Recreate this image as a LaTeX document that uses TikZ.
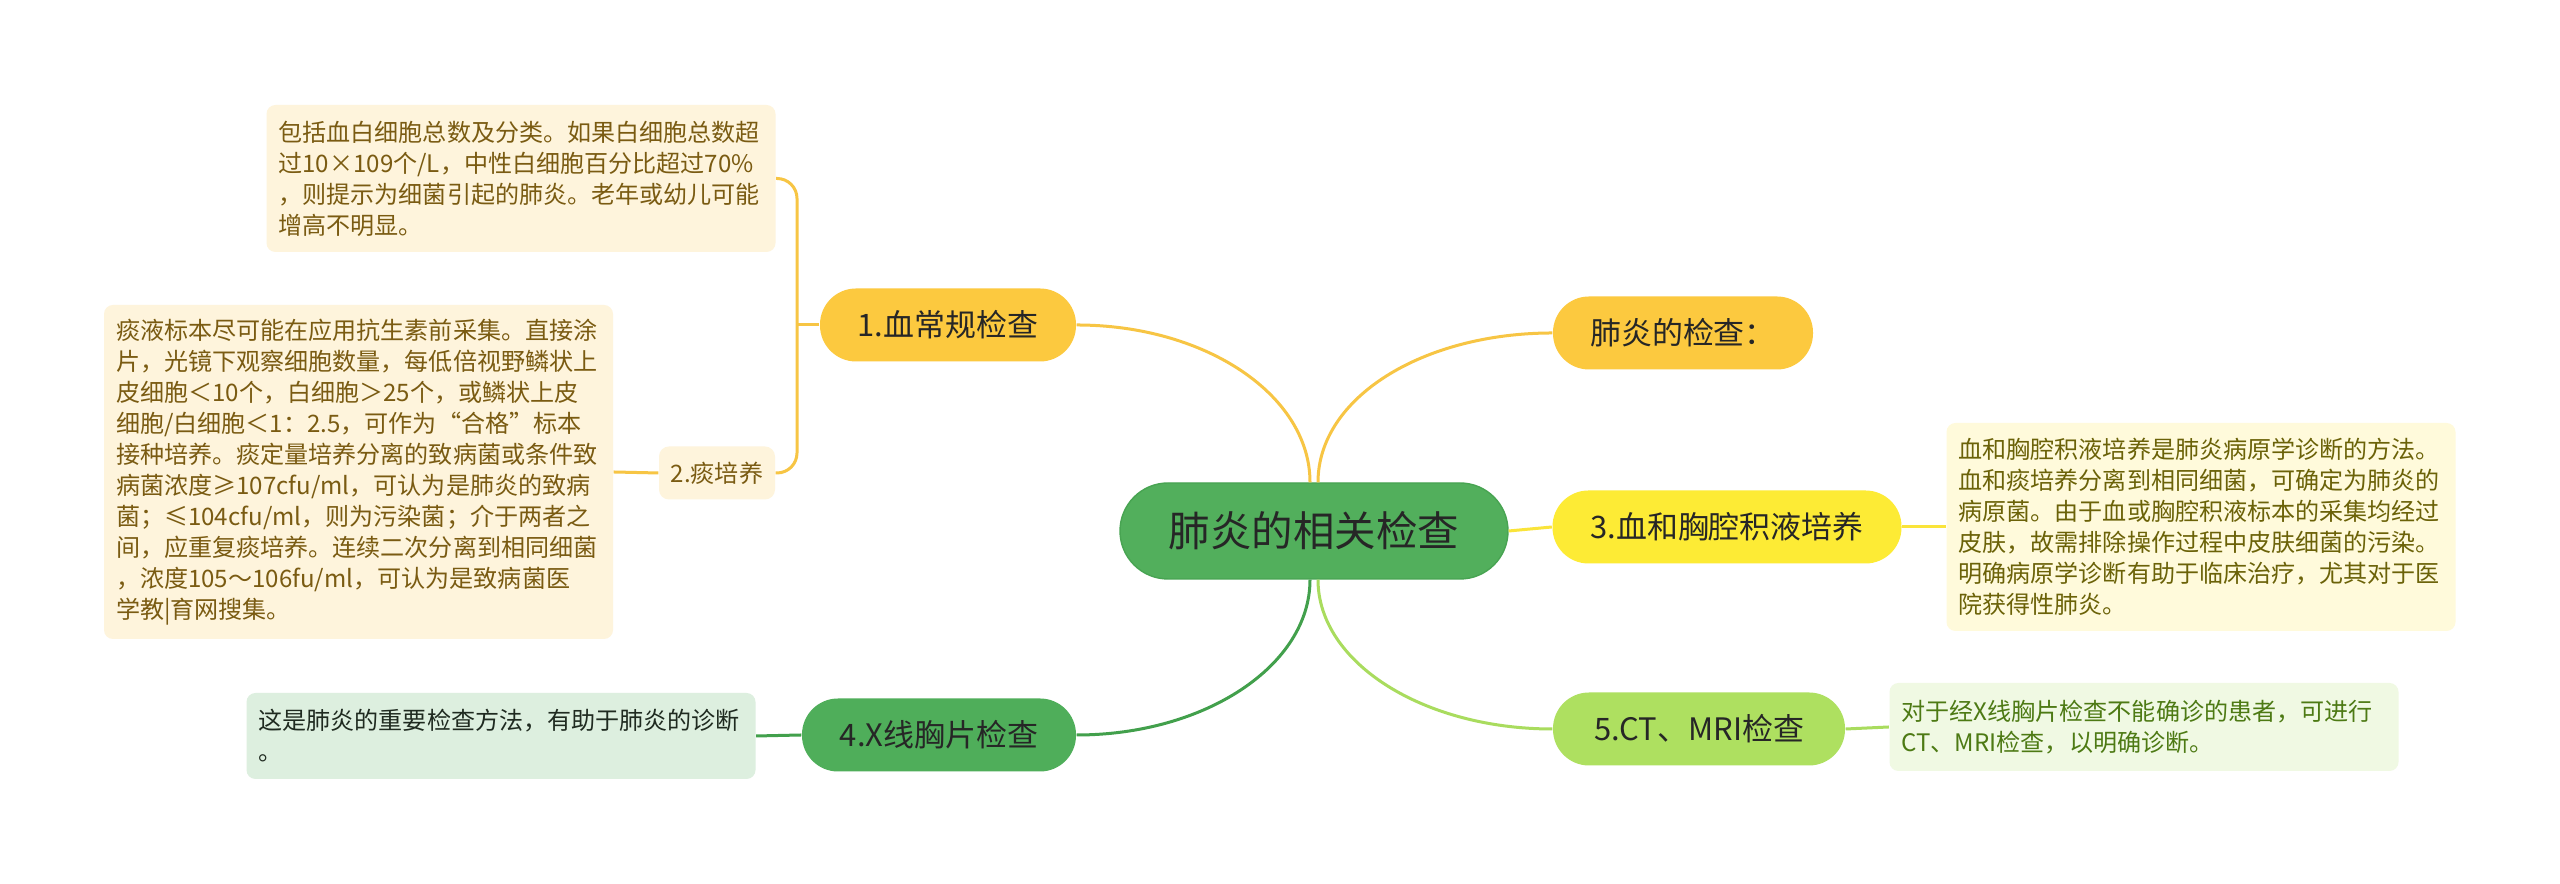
\documentclass[tikz,border=0pt]{standalone}
\usepackage{fontspec}
\setmainfont{Noto Sans CJK SC}

\definecolor{topicgreen}{HTML}{52AF5C}
\definecolor{topicedge}{HTML}{48A452}
\definecolor{goldfill}{HTML}{FCC93F}
\definecolor{goldline}{HTML}{F7C544}
\definecolor{yellowfill}{HTML}{FDEB35}
\definecolor{yellowline}{HTML}{FAE43A}
\definecolor{limefill}{HTML}{AEE060}
\definecolor{limeline}{HTML}{A9DC5E}
\definecolor{greenfill}{HTML}{4FAE5A}
\definecolor{greenline}{HTML}{42A04C}
\definecolor{creamfill}{HTML}{FEF4DC}
\definecolor{creamtext}{HTML}{7A5B12}
\definecolor{paleyellow}{HTML}{FFFADB}
\definecolor{olivetext}{HTML}{6B6208}
\definecolor{palegreen}{HTML}{DDEFDF}
\definecolor{darktext}{HTML}{1F2A20}
\definecolor{palelime}{HTML}{F0F9E3}
\definecolor{limetext}{HTML}{4D7A14}

\begin{document}
\begin{tikzpicture}[
    pill/.style={rectangle, rounded corners=0.36cm, inner sep=0pt, minimum height=0.73cm, text=black!85, font=\fontsize{8.8}{10}\selectfont},
    note/.style={rectangle, rounded corners=0.09cm, inner xsep=0.12cm, inner ysep=0pt, text width=4.85cm, minimum width=5.09cm, align=left, font=\fontsize{6.85}{8.8}\selectfont},
    link/.style={line width=0.03cm},
]
    % Canvas
    \fill[white] (0,0) rectangle (25.6,8.84);

    % Central topic
    \node[rectangle, rounded corners=0.48cm, fill=topicgreen, draw=topicedge, line width=0.4pt, minimum width=3.88cm, minimum height=0.96cm, text=black!85, font=\fontsize{11.8}{14}\selectfont] (topic) at (13.14,3.53) {肺炎的相关检查};

    % Main branches
    \node[pill, fill=goldfill, minimum width=2.56cm] (blood) at (9.48,5.59) {1.血常规检查};
    \node[pill, fill=goldfill, minimum width=2.60cm] (exam) at (16.83,5.51) {肺炎的检查：};
    \node[pill, fill=yellowfill, minimum width=3.49cm] (culture) at (17.27,3.57) {3.血和胸腔积液培养};
    \node[pill, fill=greenfill, minimum width=2.74cm] (xray) at (9.39,1.49) {4.X线胸片检查};
    \node[pill, fill=limefill, minimum width=2.92cm] (ctmri) at (16.99,1.55) {5.CT、MRI检查};

    % Sub branch
    \node[rectangle, rounded corners=0.1cm, fill=creamfill, text=creamtext, minimum width=1.16cm, minimum height=0.53cm, inner sep=0pt, font=\fontsize{6.85}{8.8}\selectfont] (sputum) at (7.17,4.11) {2.痰培养};

    % Detail notes
    \node[note, fill=creamfill, text=creamtext, minimum height=1.47cm] (bloodnote) at (5.21,7.055) {包括血白细胞总数及分类。如果白细胞总数超\\
过10×109个/L，中性白细胞百分比超过70\%\\
，则提示为细菌引起的肺炎。老年或幼儿可能\\
增高不明显。};

    \node[note, fill=creamfill, text=creamtext, minimum height=3.34cm] (sputumnote) at (3.585,4.12) {痰液标本尽可能在应用抗生素前采集。直接涂\\
片，光镜下观察细胞数量，每低倍视野鳞状上\\
皮细胞＜10个，白细胞＞25个，或鳞状上皮\\
细胞/白细胞＜1：2.5，可作为“合格”标本\\
接种培养。痰定量培养分离的致病菌或条件致\\
病菌浓度≥107cfu/ml，可认为是肺炎的致病\\
菌；≤104cfu/ml，则为污染菌；介于两者之\\
间，应重复痰培养。连续二次分离到相同细菌\\
，浓度105～106fu/ml，可认为是致病菌医\\
学教|育网搜集。};

    \node[note, fill=paleyellow, text=olivetext, minimum height=2.08cm] (culturenote) at (22.01,3.57) {血和胸腔积液培养是肺炎病原学诊断的方法。\\
血和痰培养分离到相同细菌，可确定为肺炎的\\
病原菌。由于血或胸腔积液标本的采集均经过\\
皮肤，故需排除操作过程中皮肤细菌的污染。\\
明确病原学诊断有助于临床治疗，尤其对于医\\
院获得性肺炎。};

    \node[note, fill=palegreen, text=darktext, minimum height=0.86cm] (xraynote) at (5.01,1.48) {这是肺炎的重要检查方法，有助于肺炎的诊断\\
。};

    \node[note, fill=palelime, text=limetext, minimum height=0.88cm] (ctnote) at (21.44,1.57) {对于经X线胸片检查不能确诊的患者，可进行\\
CT、MRI检查，以明确诊断。};

    % Connectors from the topic
    \draw[link, goldline] ([xshift=-0.04cm]topic.north) .. controls +(0,0.87) and +(1.29,0) .. (blood.east);
    \draw[link, goldline] ([xshift=0.04cm]topic.north) .. controls +(0,0.85) and +(-1.29,0) .. (exam.west);
    \draw[link, yellowline] (topic.east) -- (culture.west);
    \draw[link, greenline] ([xshift=-0.04cm]topic.south) .. controls +(0,-0.86) and +(1.28,0) .. (xray.east);
    \draw[link, limeline] ([xshift=0.04cm]topic.south) .. controls +(0,-0.83) and +(-1.29,0) .. (ctmri.west);

    % Bracket of the first branch
    \coordinate (fork) at (7.97,5.59);
    \draw[link, goldline] (blood.west) -- (fork);
    \draw[link, goldline, rounded corners=0.2cm] (bloodnote.east) -| (fork) |- (sputum.east);

    % Connectors to the notes
    \draw[link, goldline] (sputum.west) -- (sputumnote.east);
    \draw[link, yellowline] (culture.east) -- (culturenote.west);
    \draw[link, greenline] (xray.west) -- (xraynote.east);
    \draw[link, limeline] (ctmri.east) -- (ctnote.west);
\end{tikzpicture}
\end{document}
